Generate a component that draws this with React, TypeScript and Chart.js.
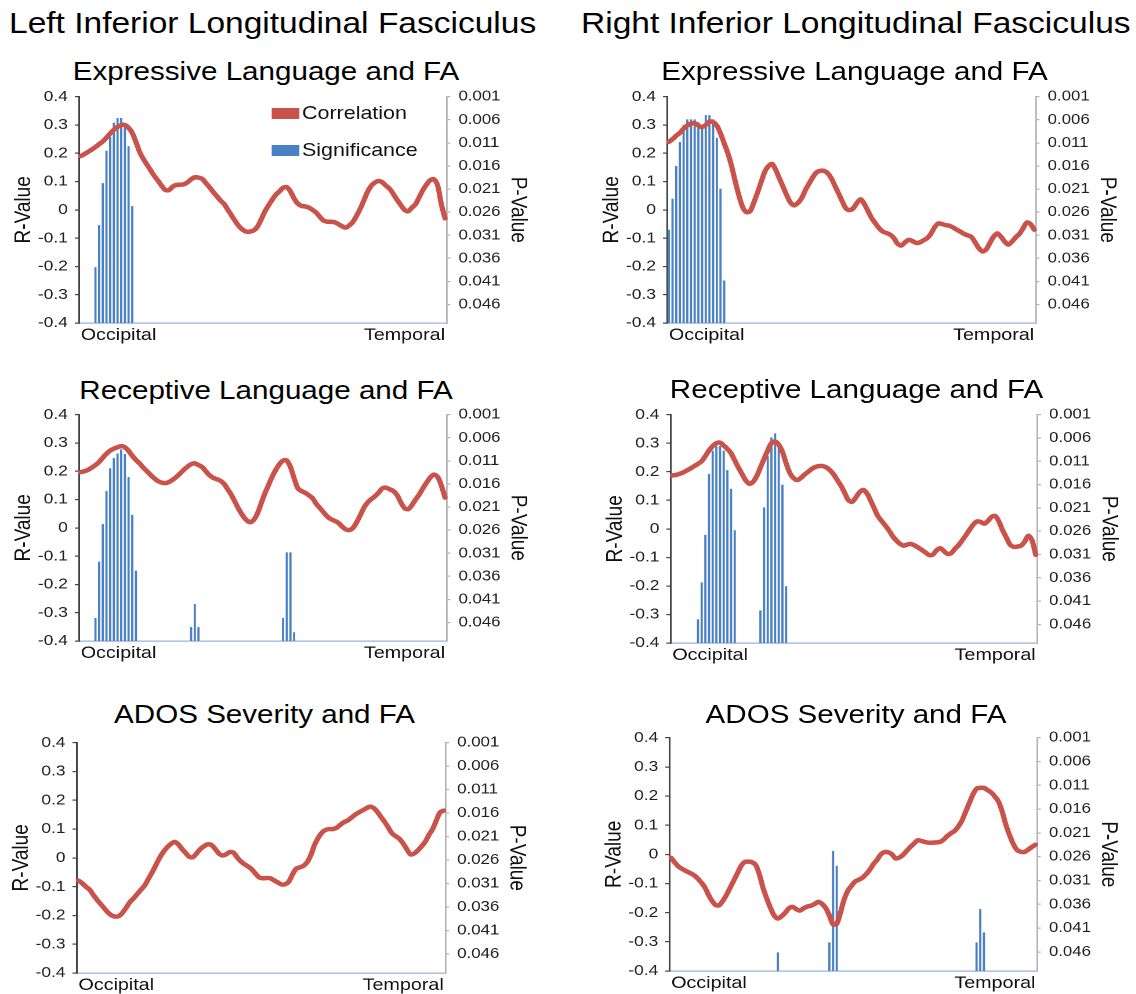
import React, { useEffect, useRef } from 'react';
import { Chart, registerables } from 'chart.js';

Chart.register(...registerables);

// ---------------- data ----------------
const NODE_LABELS = Array.from({ length: 100 }, (_, i) => String(i + 1));
const X_END_LABELS = ['Occipital', 'Temporal'];
const R_TICKS = [-0.4, -0.3, -0.2, -0.1, 0, 0.1, 0.2, 0.3, 0.4];
const P_TICKS = [0.001, 0.006, 0.011, 0.016, 0.021, 0.026, 0.031, 0.036, 0.041, 0.046];
const R_MIN = -0.4;
const R_MAX = 0.4;
const P_MIN = 0.001;
const P_MAX = 0.05;
const SERIES_NAMES = ['Correlation', 'Significance'];
const AXIS_TITLES = ['R-Value', 'P-Value'];
const COLUMN_TITLES = ['Left Inferior Longitudinal Fasciculus', 'Right Inferior Longitudinal Fasciculus'];
const PANEL_TITLES = ['Expressive Language and FA', 'Receptive Language and FA', 'ADOS Severity and FA'];

const R_LEFT_EXPRESSIVE = [
  0.19, 0.197, 0.205, 0.213, 0.222, 0.232, 0.242, 0.255, 0.27, 0.283,
  0.293, 0.3, 0.3, 0.29, 0.272, 0.24, 0.205, 0.18, 0.16, 0.14,
  0.12, 0.103, 0.085, 0.07, 0.07, 0.082, 0.088, 0.089, 0.09, 0.097,
  0.108, 0.115, 0.114, 0.11, 0.095, 0.08, 0.063, 0.048, 0.033, 0.02,
  0.0, -0.02, -0.04, -0.058, -0.07, -0.077, -0.077, -0.073, -0.06, -0.035,
  -0.007, 0.015, 0.035, 0.053, 0.065, 0.078, 0.08, 0.065, 0.04, 0.022,
  0.014, 0.012, 0.008, 0.0, -0.01, -0.025, -0.038, -0.042, -0.042, -0.044,
  -0.05, -0.058, -0.063, -0.055, -0.042, -0.02, 0.005, 0.035, 0.065, 0.086,
  0.097, 0.102, 0.097, 0.085, 0.074, 0.055, 0.035, 0.017, 0.0, -0.005,
  0.008, 0.02, 0.045, 0.07, 0.09, 0.105, 0.108, 0.086, 0.02, -0.03,
];
const SIG_LEFT_EXPRESSIVE = [
  [4, 0.0379], [5, 0.0288], [6, 0.0197], [7, 0.0127], [8, 0.0097], [9, 0.0066],
  [10, 0.0056], [11, 0.0056], [12, 0.0067], [13, 0.0117], [14, 0.0247],
];

const R_RIGHT_EXPRESSIVE = [
  0.24, 0.25, 0.262, 0.272, 0.287, 0.298, 0.305, 0.306, 0.298, 0.293,
  0.3, 0.312, 0.31, 0.298, 0.27, 0.235, 0.2, 0.155, 0.1, 0.05,
  0.01, -0.008, -0.005, 0.025, 0.06, 0.098, 0.135, 0.155, 0.162, 0.14,
  0.11, 0.08, 0.05, 0.025, 0.016, 0.025, 0.042, 0.07, 0.093, 0.115,
  0.132, 0.138, 0.138, 0.13, 0.112, 0.085, 0.058, 0.03, 0.005, -0.001,
  0.006, 0.025, 0.037, 0.02, -0.005, -0.03, -0.048, -0.065, -0.077, -0.082,
  -0.088, -0.1, -0.12, -0.126, -0.115, -0.106, -0.11, -0.117, -0.115, -0.108,
  -0.1, -0.085, -0.062, -0.048, -0.05, -0.054, -0.056, -0.062, -0.07, -0.077,
  -0.085, -0.09, -0.096, -0.115, -0.135, -0.147, -0.14, -0.117, -0.095, -0.083,
  -0.095, -0.112, -0.123, -0.112, -0.097, -0.085, -0.065, -0.045, -0.05, -0.07,
];
const SIG_RIGHT_EXPRESSIVE = [
  [0, 0.0298], [1, 0.0231], [2, 0.016], [3, 0.0108], [4, 0.0071], [5, 0.0059],
  [6, 0.0059], [7, 0.0059], [8, 0.0065], [9, 0.0071], [10, 0.005], [11, 0.005],
  [12, 0.0059], [13, 0.0099], [14, 0.0209], [15, 0.0408],
];

const R_LEFT_RECEPTIVE = [
  0.197, 0.2, 0.205, 0.213, 0.222, 0.233, 0.248, 0.262, 0.273, 0.28,
  0.285, 0.289, 0.285, 0.272, 0.255, 0.24, 0.228, 0.213, 0.2, 0.187,
  0.175, 0.165, 0.16, 0.158, 0.162, 0.17, 0.18, 0.192, 0.205, 0.216,
  0.225, 0.228, 0.222, 0.215, 0.2, 0.186, 0.177, 0.172, 0.166, 0.155,
  0.135, 0.115, 0.09, 0.065, 0.044, 0.028, 0.02, 0.028, 0.05, 0.085,
  0.12, 0.15, 0.18, 0.205, 0.225, 0.238, 0.238, 0.215, 0.175, 0.14,
  0.13, 0.124, 0.115, 0.105, 0.085, 0.07, 0.055, 0.04, 0.031, 0.025,
  0.018, 0.005, -0.005, -0.008, 0.0, 0.02, 0.045, 0.072, 0.09, 0.102,
  0.112, 0.125, 0.14, 0.142, 0.136, 0.13, 0.115, 0.09, 0.07, 0.066,
  0.08, 0.1, 0.118, 0.14, 0.16, 0.178, 0.188, 0.18, 0.15, 0.107,
];
const SIG_LEFT_RECEPTIVE = [
  [4, 0.045], [5, 0.0328], [6, 0.0247], [7, 0.0175], [8, 0.0126], [9, 0.0104],
  [10, 0.0094], [11, 0.0085], [12, 0.0095], [13, 0.0145], [14, 0.0227], [15, 0.0348],
  [30, 0.047], [31, 0.042], [32, 0.047],
  [55, 0.045], [56, 0.0308], [57, 0.0308], [58, 0.0481],
];

const R_RIGHT_RECEPTIVE = [
  0.187, 0.189, 0.193, 0.198, 0.205, 0.212, 0.22, 0.228, 0.237, 0.255,
  0.275, 0.29, 0.3, 0.302, 0.292, 0.28, 0.265, 0.24, 0.215, 0.192,
  0.17, 0.158, 0.165, 0.185, 0.215, 0.245, 0.275, 0.3, 0.306, 0.295,
  0.27, 0.23, 0.196, 0.178, 0.171, 0.178, 0.19, 0.2, 0.21, 0.217,
  0.22, 0.22, 0.215, 0.205, 0.19, 0.17, 0.15, 0.125, 0.1, 0.095,
  0.11, 0.128, 0.136, 0.125, 0.1, 0.072, 0.045, 0.028, 0.012, -0.005,
  -0.025, -0.04, -0.052, -0.059, -0.055, -0.053, -0.058, -0.066, -0.074, -0.083,
  -0.092, -0.09, -0.075, -0.068, -0.078, -0.088, -0.085, -0.07, -0.057, -0.04,
  -0.022, -0.003, 0.015, 0.026, 0.024, 0.018, 0.028, 0.042, 0.045, 0.025,
  -0.005, -0.03, -0.055, -0.063, -0.062, -0.059, -0.045, -0.024, -0.04, -0.091,
];
const SIG_RIGHT_RECEPTIVE = [
  [7, 0.0449], [8, 0.037], [9, 0.0268], [10, 0.0137], [11, 0.0087], [12, 0.0077],
  [13, 0.0077], [14, 0.0087], [15, 0.0129], [16, 0.0169], [17, 0.0258],
  [24, 0.043], [25, 0.0209], [26, 0.0099], [27, 0.0059], [28, 0.005], [29, 0.0071],
  [30, 0.016], [31, 0.0378],
];

const R_LEFT_ADOS = [
  -0.079, -0.088, -0.1, -0.11, -0.128, -0.145, -0.16, -0.175, -0.19, -0.2,
  -0.204, -0.202, -0.19, -0.172, -0.153, -0.14, -0.125, -0.11, -0.095, -0.072,
  -0.05, -0.025, 0.0, 0.02, 0.036, 0.048, 0.055, 0.048, 0.032, 0.018,
  0.004, 0.002, 0.015, 0.03, 0.04, 0.047, 0.045, 0.032, 0.016, 0.008,
  0.012, 0.02, 0.018, 0.002, -0.012, -0.022, -0.03, -0.04, -0.055, -0.068,
  -0.071, -0.07, -0.071, -0.078, -0.085, -0.092, -0.092, -0.083, -0.058, -0.038,
  -0.033, -0.028, -0.015, 0.01, 0.045, 0.07, 0.088, 0.097, 0.1, 0.1,
  0.105, 0.115, 0.124, 0.13, 0.14, 0.15, 0.158, 0.165, 0.172, 0.178,
  0.173, 0.16, 0.142, 0.125, 0.105, 0.085, 0.075, 0.066, 0.05, 0.03,
  0.012, 0.015, 0.026, 0.04, 0.056, 0.08, 0.1, 0.13, 0.158, 0.164,
];
const SIG_LEFT_ADOS: number[][] = [];

const R_RIGHT_ADOS = [
  -0.012, -0.028, -0.042, -0.05, -0.057, -0.063, -0.07, -0.08, -0.094, -0.11,
  -0.135, -0.158, -0.173, -0.175, -0.16, -0.14, -0.115, -0.09, -0.065, -0.04,
  -0.026, -0.025, -0.027, -0.037, -0.07, -0.116, -0.152, -0.184, -0.21, -0.22,
  -0.212, -0.2, -0.185, -0.18, -0.188, -0.193, -0.185, -0.179, -0.176, -0.17,
  -0.163, -0.17, -0.184, -0.21, -0.24, -0.238, -0.2, -0.155, -0.125, -0.108,
  -0.093, -0.087, -0.08, -0.068, -0.052, -0.033, -0.018, 0.0, 0.008, 0.007,
  0.0, -0.014, -0.011, -0.002, 0.012, 0.025, 0.037, 0.048, 0.046, 0.042,
  0.04, 0.04, 0.041, 0.042, 0.05, 0.062, 0.072, 0.08, 0.095, 0.115,
  0.145, 0.175, 0.205, 0.225, 0.228, 0.228, 0.22, 0.212, 0.198, 0.18,
  0.145, 0.1, 0.065, 0.035, 0.015, 0.009, 0.008, 0.016, 0.025, 0.033,
];
const SIG_RIGHT_ADOS = [
  [29, 0.0461], [43, 0.044], [44, 0.0248], [45, 0.0279],
  [83, 0.044], [84, 0.037], [85, 0.0419],
];

// ---------------- layout & style ----------------
const SX = 1.16; // horizontal stretch of the reference figure
const px = (x: number) => x / SX;
const PAGE_W = 1136;
const PAGE_H = 994;
const FONT = "'Liberation Sans', Arial, Helvetica, sans-serif";
const RED = '#c9524b';
const BLUE = '#4a80c4';
const AXIS_DARK = '#444444';
const AXIS_LIGHT = '#b3b3b3';
const DOT_COLOR = '#9ab2de';
const AXL = 66;
const AXR = 82;
const PAD_TOP = 12;
const X_AXIS_H = 28;

Chart.defaults.font.family = FONT;
Chart.defaults.color = '#222';

type Panel = {
  r: number[];
  sig: number[][];
  title: string;
  box: [number, number, number, number]; // page coords: left, right, top, bottom of plot area
  titleBase: number;
  legend?: boolean;
};

const PANELS: Panel[] = [
  { r: R_LEFT_EXPRESSIVE, sig: SIG_LEFT_EXPRESSIVE, title: PANEL_TITLES[0], box: [79, 447, 93, 323], titleBase: 81, legend: true },
  { r: R_RIGHT_EXPRESSIVE, sig: SIG_RIGHT_EXPRESSIVE, title: PANEL_TITLES[0], box: [667, 1036, 93, 323], titleBase: 81 },
  { r: R_LEFT_RECEPTIVE, sig: SIG_LEFT_RECEPTIVE, title: PANEL_TITLES[1], box: [79, 447, 411, 641], titleBase: 400 },
  { r: R_RIGHT_RECEPTIVE, sig: SIG_RIGHT_RECEPTIVE, title: PANEL_TITLES[1], box: [670, 1037, 411, 643], titleBase: 399 },
  { r: R_LEFT_ADOS, sig: SIG_LEFT_ADOS, title: PANEL_TITLES[2], box: [77, 446, 739, 973], titleBase: 724 },
  { r: R_RIGHT_ADOS, sig: SIG_RIGHT_ADOS, title: PANEL_TITLES[2], box: [669, 1037, 734, 971], titleBase: 724 },
];

function PanelChart({ panel }: { panel: Panel }) {
  const ref = useRef<HTMLCanvasElement>(null);
  const [L, R, T, B] = panel.box;
  const lx = px(L);
  const rx = px(R);
  const wrapLeft = lx - AXL;
  const wrapTop = T - PAD_TOP;
  const wrapW = AXL + (rx - lx) + AXR;
  const wrapH = PAD_TOP + (B - T) + X_AXIS_H;

  useEffect(() => {
    if (!ref.current) return;
    const sigData: any[] = NODE_LABELS.map(() => null);
    panel.sig.forEach(([n, p]) => {
      sigData[n] = [P_MAX, p];
    });
    const chart = new Chart(ref.current, {
      type: 'bar',
      data: {
        labels: NODE_LABELS,
        datasets: [
          {
            type: 'line',
            label: SERIES_NAMES[0],
            data: panel.r,
            yAxisID: 'yR',
            borderColor: RED,
            backgroundColor: RED,
            borderWidth: 4.5,
            pointRadius: 0,
            tension: 0.3,
            fill: false,
            borderCapStyle: 'round',
            borderJoinStyle: 'round',
            order: 0,
          } as any,
          {
            type: 'bar',
            label: SERIES_NAMES[1],
            data: sigData,
            yAxisID: 'yP',
            backgroundColor: BLUE,
            borderWidth: 0,
            barPercentage: 0.6,
            categoryPercentage: 1,
            order: 1,
          } as any,
        ],
      },
      options: {
        animation: false,
        responsive: true,
        maintainAspectRatio: false,
        devicePixelRatio: 2,
        events: [],
        layout: { padding: { top: PAD_TOP, left: 0, right: 0, bottom: 0 } },
        plugins: {
          legend: { display: false },
          tooltip: { enabled: false },
          title: { display: false },
        },
        scales: {
          x: {
            type: 'category',
            offset: true,
            grid: { display: false, drawTicks: false },
            border: { display: true, color: DOT_COLOR, width: 1.2, dash: [1.5, 1.5] },
            ticks: {
              autoSkip: false,
              maxRotation: 0,
              minRotation: 0,
              align: 'inner',
              padding: 2,
              color: '#111',
              font: { size: 17 },
              callback: (_v: any, i: number) =>
                i === 0 ? X_END_LABELS[0] : i === NODE_LABELS.length - 1 ? X_END_LABELS[1] : '',
            },
            afterFit: (s: any) => {
              s.height = X_AXIS_H;
            },
          } as any,
          yR: {
            type: 'linear',
            axis: 'y',
            position: 'left',
            min: R_MIN,
            max: R_MAX,
            afterBuildTicks: (s: any) => {
              s.ticks = R_TICKS.map((value) => ({ value }));
            },
            ticks: {
              color: '#222',
              font: { size: 15 },
              padding: 6,
              callback: (v: any) => (Number(v) === 0 ? '0' : Number(v).toFixed(1)),
            },
            grid: { drawOnChartArea: false, drawTicks: true, tickLength: 3.5, color: AXIS_DARK, lineWidth: 1.2 },
            border: { display: true, color: AXIS_DARK, width: 1.5 },
            title: {
              display: true,
              text: AXIS_TITLES[0],
              color: '#111',
              font: { size: 19 },
              padding: { top: 7.2, bottom: 0 },
            },
            afterFit: (s: any) => {
              s.width = AXL;
            },
          } as any,
          yP: {
            type: 'linear',
            axis: 'y',
            position: 'right',
            reverse: true,
            min: P_MIN,
            max: P_MAX,
            afterBuildTicks: (s: any) => {
              s.ticks = P_TICKS.map((value) => ({ value }));
            },
            ticks: {
              color: '#222',
              font: { size: 14.5 },
              padding: 7,
              callback: (v: any) => Number(v).toFixed(3),
            },
            grid: { drawOnChartArea: false, drawTicks: true, tickLength: 3, color: AXIS_LIGHT, lineWidth: 1.2 },
            border: { display: true, color: AXIS_LIGHT, width: 1.4 },
            title: {
              display: true,
              text: AXIS_TITLES[1],
              color: '#111',
              font: { size: 19 },
              padding: { top: 9.4, bottom: 0 },
            },
            afterFit: (s: any) => {
              s.width = AXR;
            },
          } as any,
        },
      } as any,
    });
    return () => chart.destroy();
  }, [panel]);

  const titleFs = 25.5;
  const cx = px((L + R) / 2 + 3);

  return (
    <>
      <div
        style={{
          position: 'absolute',
          left: cx - 300,
          width: 600,
          top: panel.titleBase - 0.8465 * titleFs,
          fontSize: titleFs,
          lineHeight: `${titleFs}px`,
          textAlign: 'center',
          whiteSpace: 'nowrap',
          color: '#000',
        }}
      >
        {panel.title}
      </div>
      <div style={{ position: 'absolute', left: wrapLeft, top: wrapTop, width: wrapW, height: wrapH }}>
        <canvas ref={ref} />
      </div>
      {panel.legend && <Legend />}
    </>
  );
}

function Legend() {
  const fs = 18.5;
  const rows = [
    { label: SERIES_NAMES[0], color: RED, cy: 113.5 },
    { label: SERIES_NAMES[1], color: BLUE, cy: 150.5 },
  ];
  return (
    <>
      {rows.map((row) => (
        <React.Fragment key={row.label}>
          <div
            style={{
              position: 'absolute',
              left: px(272),
              width: px(299) - px(272),
              top: row.cy - 5.5,
              height: 11,
              background: row.color,
            }}
          />
          <div
            style={{
              position: 'absolute',
              left: px(302),
              top: row.cy + 0.358 * fs - 0.8465 * fs,
              fontSize: fs,
              lineHeight: `${fs}px`,
              whiteSpace: 'nowrap',
              color: '#111',
            }}
          >
            {row.label}
          </div>
        </React.Fragment>
      ))}
    </>
  );
}

export default function App() {
  const hfs = 28.9;
  return (
    <div
      style={{
        position: 'absolute',
        left: 0,
        top: 0,
        width: px(PAGE_W),
        height: PAGE_H,
        overflow: 'hidden',
        transform: `scaleX(${SX})`,
        transformOrigin: '0 0',
        fontFamily: FONT,
        background: '#fff',
      }}
    >
      <div
        style={{
          position: 'absolute',
          left: px(9),
          top: 33 - 0.8465 * hfs,
          fontSize: hfs,
          lineHeight: `${hfs}px`,
          whiteSpace: 'nowrap',
          color: '#000',
        }}
      >
        {COLUMN_TITLES[0]}
      </div>
      <div
        style={{
          position: 'absolute',
          left: px(581),
          top: 33 - 0.8465 * hfs,
          fontSize: hfs,
          lineHeight: `${hfs}px`,
          whiteSpace: 'nowrap',
          color: '#000',
        }}
      >
        {COLUMN_TITLES[1]}
      </div>
      {PANELS.map((p, i) => (
        <PanelChart key={i} panel={p} />
      ))}
    </div>
  );
}
